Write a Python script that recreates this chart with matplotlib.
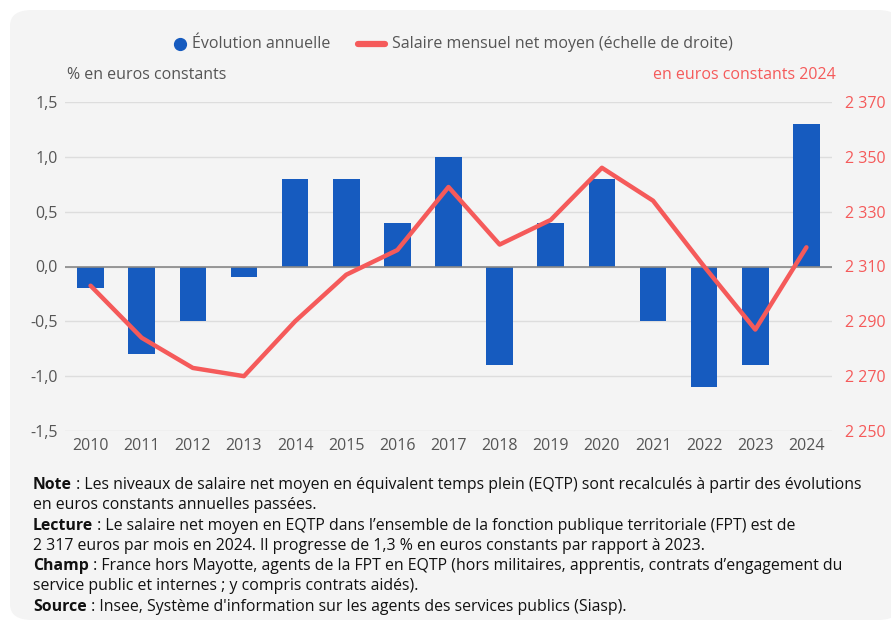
import matplotlib.pyplot as plt
from matplotlib.patches import FancyBboxPatch
from matplotlib.lines import Line2D

plt.rcParams['font.family'] = ['Open Sans', 'DejaVu Sans']

# Données
annees = [2010, 2011, 2012, 2013, 2014, 2015, 2016, 2017, 2018, 2019, 2020, 2021, 2022, 2023, 2024]
evolution = [-0.2, -0.8, -0.5, -0.1, 0.8, 0.8, 0.4, 1.0, -0.9, 0.4, 0.8, -0.5, -1.1, -0.9, 1.3]
salaire = [2303, 2284, 2273, 2270, 2290, 2307, 2316, 2339, 2318, 2327, 2346, 2334, 2310, 2287, 2317]
ticks_gauche = [-1.5, -1.0, -0.5, 0.0, 0.5, 1.0, 1.5]
ticks_droite = [2250, 2270, 2290, 2310, 2330, 2350, 2370]

bleu = '#165bbf'
rouge = '#f55a5a'
gris = '#555555'

fig = plt.figure(figsize=(8.91, 6.28), dpi=100)

# fond gris arrondi
fond = FancyBboxPatch((10 / 891, 8 / 628), 890 / 891, 610 / 628,
                      boxstyle='round,pad=0,rounding_size=0.025',
                      transform=fig.transFigure, facecolor='#f4f4f4',
                      edgecolor='none', zorder=-10)
fig.patches.append(fond)

ax = fig.add_axes([65 / 891, 1 - 431 / 628, 767 / 891, 329 / 628])
ax.set_facecolor('none')
ax2 = ax.twinx()

ax.bar(annees, evolution, width=0.52, color=bleu, zorder=3)
ax.axhline(0, color='#888888', lw=1.2, zorder=4)
ax.set_ylim(-1.5, 1.5)
ax.set_xlim(2009.5, 2024.5)
ax.set_yticks(ticks_gauche)
ax.set_yticklabels([f'{t:.1f}'.replace('.', ',') for t in ticks_gauche])
ax.set_xticks(annees)
ax.grid(axis='y', color='#dddddd', lw=1, zorder=0)
ax.tick_params(axis='both', length=0, width=0, labelsize=11.5, colors=gris, pad=5)
ax.tick_params(axis='y', right=False)
for s in ax.spines.values():
    s.set_visible(False)

ax2.plot(annees, salaire, color=rouge, lw=3.2, solid_capstyle='round', zorder=5)
ax2.set_ylim(2250, 2370)
ax2.set_yticks(ticks_droite)
ax2.set_yticklabels([f'{t:,}'.replace(',', ' ') for t in ticks_droite])
ax2.tick_params(axis='y', length=0, width=0, left=False, labelsize=11.5, colors=rouge, pad=9)
ax2.set_frame_on(False)

# titres des axes
fig.text(67 / 891, 1 - 75 / 628, '% en euros constants', fontsize=11.5, color=gris, va='center')
fig.text(836 / 891, 1 - 75 / 628, 'en euros constants 2024', fontsize=11.5, color=rouge,
         va='center', ha='right')

# légende (placée à la main)
yl = 1 - 44 / 628
fig.add_artist(Line2D([180 / 891], [yl], marker='o', color=bleu, markersize=8.5,
                      transform=fig.transFigure))
fig.text(192 / 891, yl, 'Évolution annuelle', fontsize=11.5, color=gris, va='center')
fig.add_artist(Line2D([358 / 891, 385 / 891], [yl, yl], color=rouge, lw=4.5,
                      solid_capstyle='round', transform=fig.transFigure))
fig.text(392 / 891, yl, 'Salaire mensuel net moyen (échelle de droite)', fontsize=11.5,
         color=gris, va='center')

# notes
notes = [
    ('Note', ' : Les niveaux de salaire net moyen en équivalent temps plein (EQTP) sont recalculés à partir des évolutions'),
    ('', 'en euros constants annuelles passées.'),
    ('Lecture', ' : Le salaire net moyen en EQTP dans l’ensemble de la fonction publique territoriale (FPT) est de'),
    ('', '2 317 euros par mois en 2024. Il progresse de 1,3 % en euros constants par rapport à 2023.'),
    ('Champ', ' : France hors Mayotte, agents de la FPT en EQTP (hors militaires, apprentis, contrats d’engagement du'),
    ('', 'service public et internes ; y compris contrats aidés).'),
    ('Source', ' : Insee, Système d\'information sur les agents des services publics (Siasp).'),
]
renderer = fig.canvas.get_renderer()
y0 = 485
for i, (gras, texte) in enumerate(notes):
    y = 1 - (y0 + i * 20.3) / 628
    x = 33 / 891
    if gras:
        t = fig.text(x, y, gras, fontsize=11.4, fontweight='bold', color='#111111', va='center')
        bb = t.get_window_extent(renderer)
        x = bb.x1 / fig.bbox.width
    fig.text(x, y, texte, fontsize=11.4, color='#111111', va='center')

fig.savefig('out.png', dpi=100)
